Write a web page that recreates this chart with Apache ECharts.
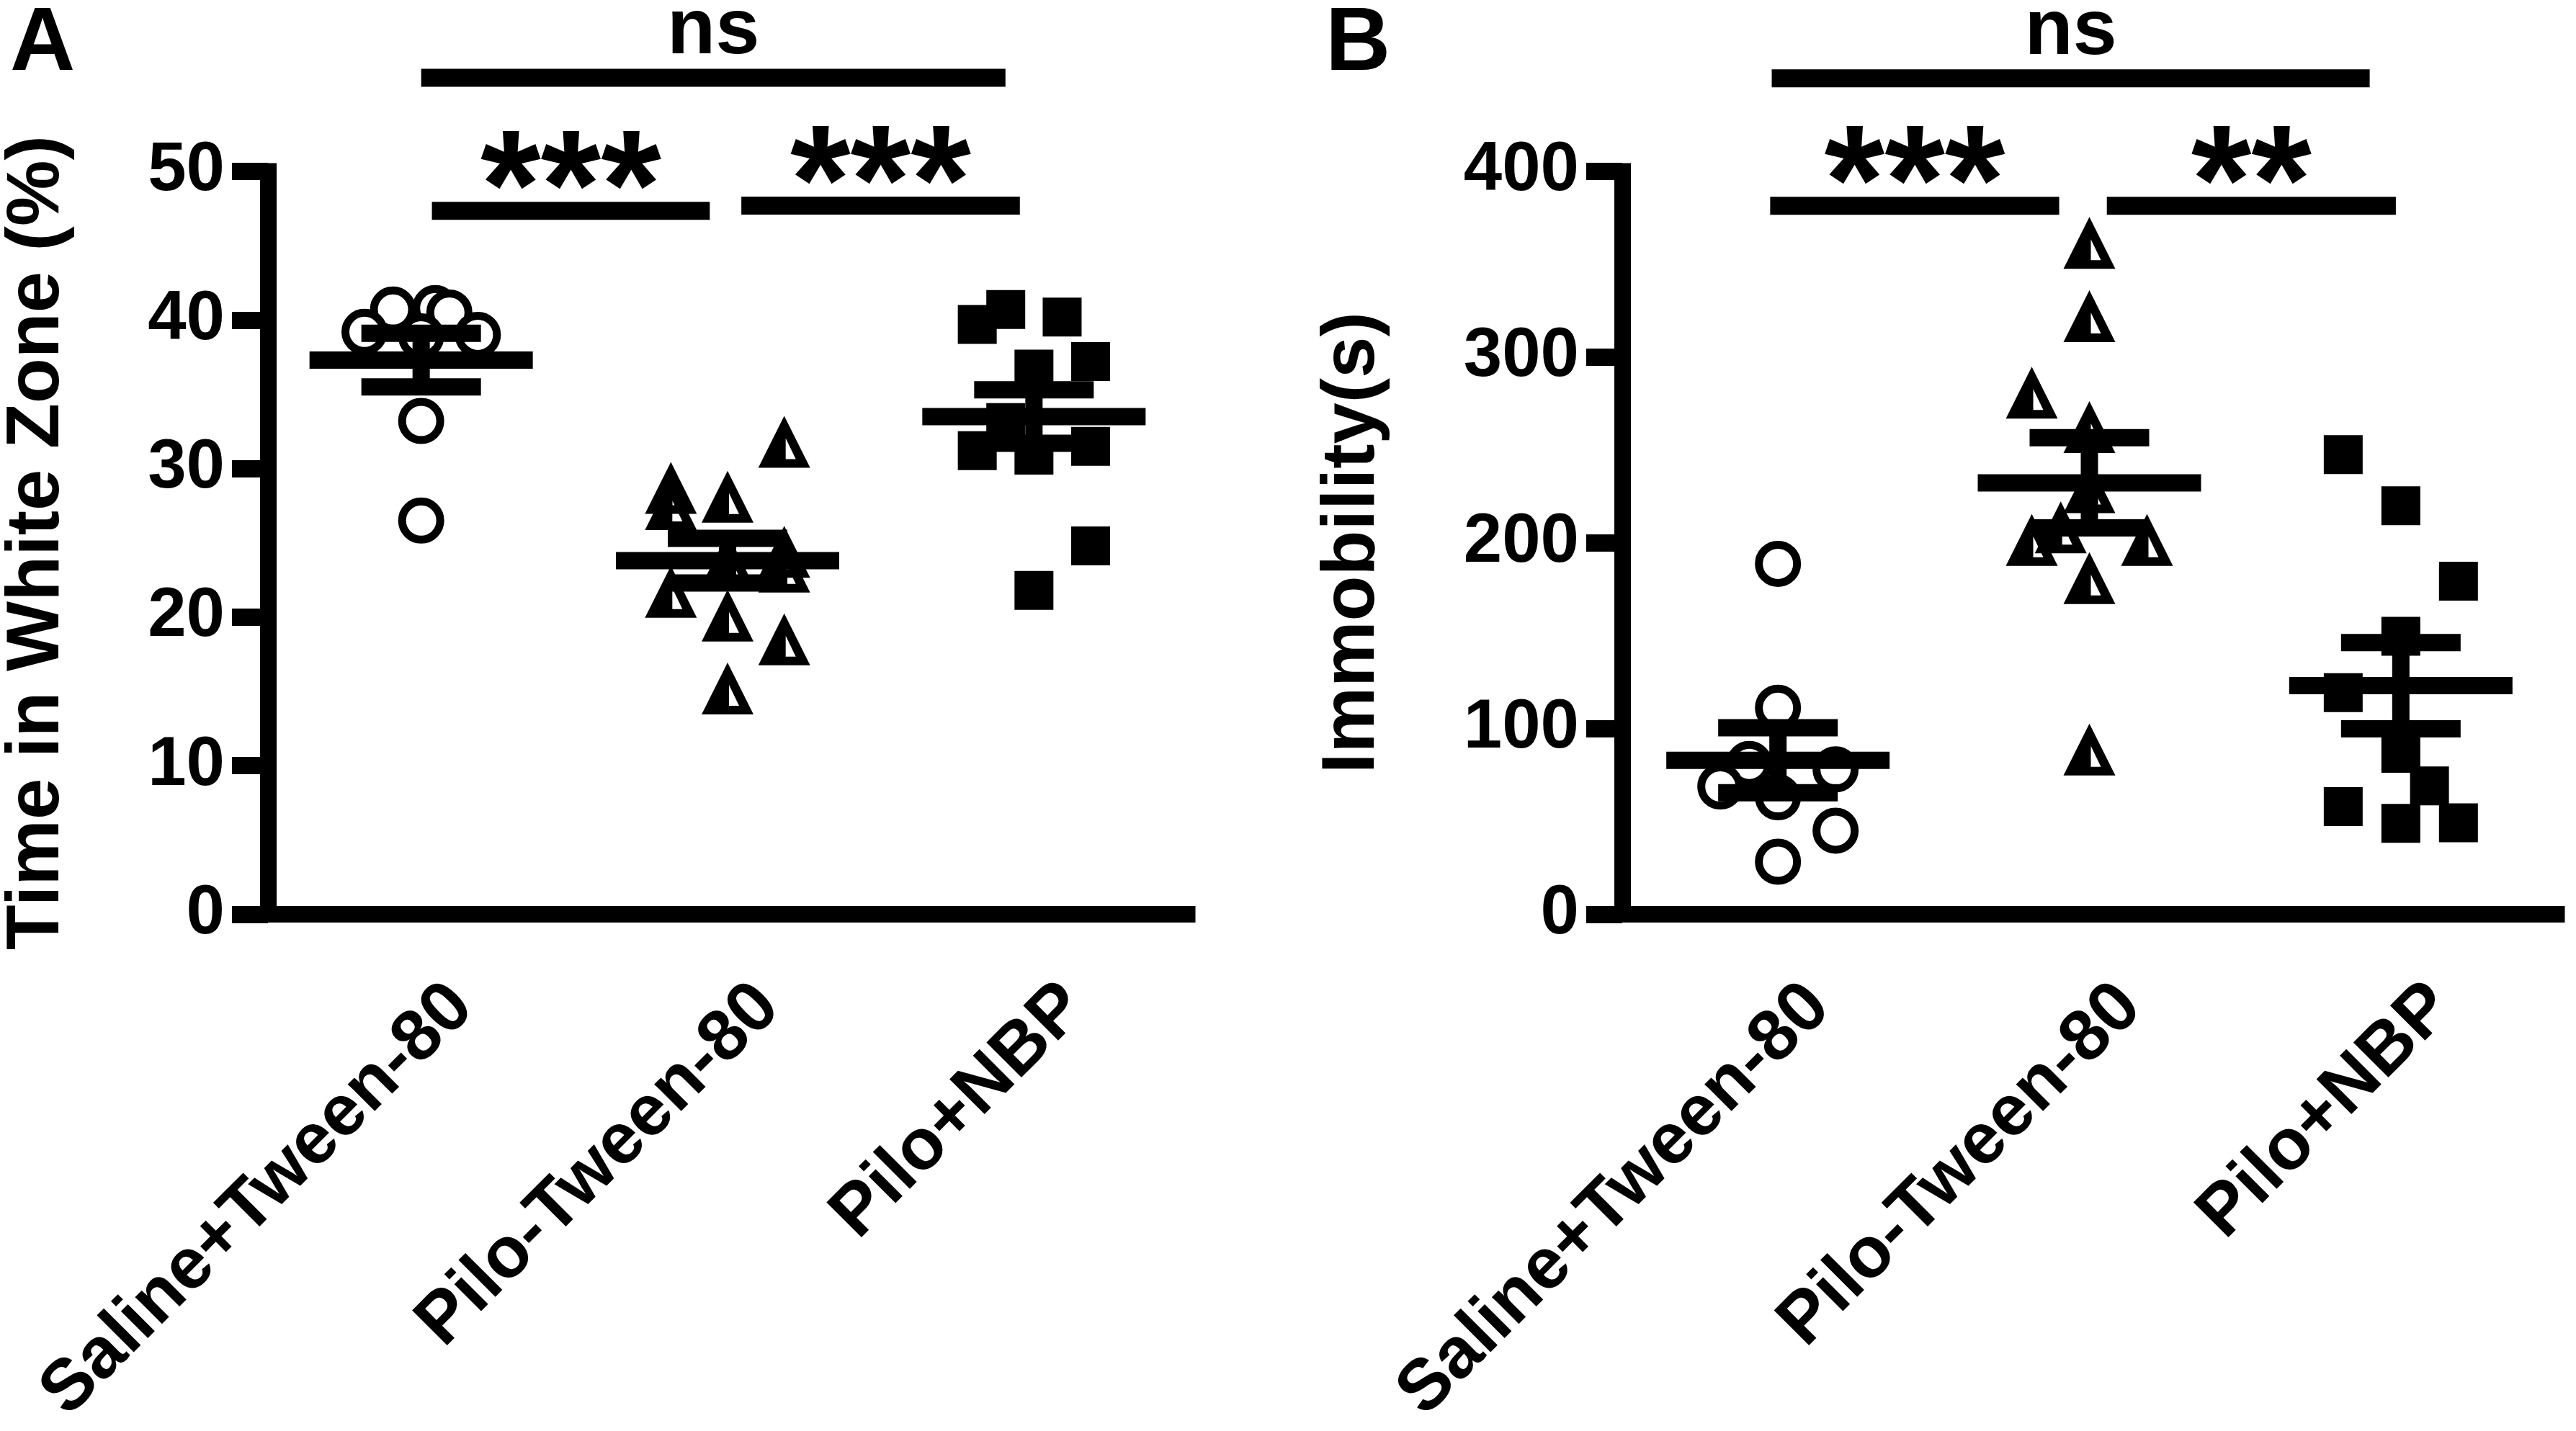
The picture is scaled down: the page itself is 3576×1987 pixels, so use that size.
<!DOCTYPE html>
<html>
<head>
<meta charset="utf-8">
<script src="https://cdn.jsdelivr.net/npm/echarts@6/dist/echarts.min.js"></script>
<style>
  html, body { margin: 0; padding: 0; background: #fff; }
  #chart { width: 3576px; height: 1987px; }
</style>
</head>
<body>
<div id="chart"></div>
<script>
// groups on the x axis
const groups = ['Saline+Tween-80', 'Pilo-Tween-80', 'Pilo+NBP'];

// panel A: time in white zone (%), points are [horizontal offset, value]
const zoneSaline = [[-0.092, 40.7], [0.046, 40.8], [0.092, 40.5], [-0.185, 39.2], [0.185, 39.0], [0, 38.9], [0, 33.2], [0, 26.5]];
const zonePilo = [[0.185, 31.8], [-0.185, 28.7], [-0.185, 27.6], [0, 28.1], [0.185, 24.4], [0.185, 23.4], [0, 23.9], [-0.185, 21.7], [0, 20.1], [0.185, 18.5], [0, 15.2]];
const zoneNbp = [[-0.092, 40.7], [-0.185, 39.7], [0.092, 40.2], [0.185, 37.2], [0, 36.7], [-0.092, 33.1], [-0.185, 31.2], [0, 30.9], [0.185, 31.5], [0.185, 24.8], [0, 21.8]];
const zoneMean = [37.3, 23.8, 33.5];
const zoneSem = [1.8, 1.5, 1.8];
const zoneTicks = [0, 10, 20, 30, 40, 50];
// significance bars: [from, to, height, label]
const zoneSig = [[0, 1.907, 56.3, 'ns'], [0.035, 0.942, 47.35, '***'], [1.045, 1.954, 47.7, '***']];

// panel B: immobility (s)
const immSaline = [[0, 188.7], [0, 111.2], [-0.092, 81.0], [-0.185, 68.8], [0.185, 78.0], [0, 63.0], [0.185, 45.0], [0, 28.3]];
const immPilo = [[0, 361.5], [0, 322.1], [-0.185, 280.9], [0, 262.3], [0, 230], [-0.092, 208.3], [-0.185, 201.6], [0.185, 201.6], [0, 181], [0, 88.7]];
const immNbp = [[-0.185, 247.5], [0, 220], [0.185, 179.4], [0, 149.7], [-0.185, 119.3], [0, 86.7], [0.092, 69.1], [-0.185, 58], [0, 49], [0.185, 49.3]];
const immMean = [82.9, 232.3, 123.1];
const immSem = [17.5, 24.3, 23.2];
const immTicks = [0, 100, 200, 300, 400];
const immSig = [[-0.02, 1.90, 450.1, 'ns'], [-0.025, 0.903, 381.5, '***'], [1.056, 1.984, 381.5, '**']];

const FONT = '"Liberation Sans", Arial, Helvetica, sans-serif';
const triPath = 'path://M36,0 L72,72 L0,72 Z M38,31 L38,60 L52,60 Z';

function place(points, g) {
  return points.map(p => [g + p[0], p[1]]);
}

function axesFor(gi, ticks, yName, nameGap) {
  return {
    x: [
      {
        type: 'category', gridIndex: gi, data: groups,
        axisLine: { lineStyle: { color: '#000', width: 23, cap: 'square' } },
        axisTick: { alignWithLabel: true, length: 54, lineStyle: { color: '#000', width: 24 } },
        axisLabel: {
          rotate: 45, margin: 170, padding: [0, -80, 0, 0], interval: 0,
          color: '#000', fontSize: 100, fontWeight: 'bold', fontFamily: FONT
        },
        splitLine: { show: false }
      },
      { type: 'value', gridIndex: gi, min: -0.5, max: 2.5, show: false }
    ],
    y: {
      type: 'value', gridIndex: gi,
      min: ticks[0], max: ticks[ticks.length - 1], interval: ticks[1] - ticks[0],
      name: yName, nameLocation: 'middle', nameGap: nameGap,
      nameTextStyle: { color: '#000', fontSize: 103, fontWeight: 'bold', fontFamily: FONT },
      axisLine: { show: true, onZero: false, lineStyle: { color: '#000', width: 23, cap: 'square' } },
      axisTick: { show: true, length: 50, lineStyle: { color: '#000', width: 24 } },
      axisLabel: { margin: 60, color: '#000', fontSize: 96, fontWeight: 'bold', fontFamily: FONT },
      splitLine: { show: false }
    }
  };
}

function scatter(xi, yi, data, symbol, size, style) {
  return {
    type: 'scatter', xAxisIndex: xi, yAxisIndex: yi, data: data,
    symbol: symbol, symbolSize: size, itemStyle: Object.assign({ opacity: 1 }, style), z: 2,
    silent: true, animation: false
  };
}

// mean line with SEM whiskers, drawn over the points
function meanSem(xi, yi, mean, sem) {
  return {
    type: 'custom', xAxisIndex: xi, yAxisIndex: yi, z: 3, silent: true, animation: false,
    data: mean.map((m, i) => [i, m, sem[i]]),
    renderItem: function (params, api) {
      const x = api.value(0), m = api.value(1), s = api.value(2);
      const c = api.coord([x, m]);
      const hi = api.coord([x, m + s]);
      const lo = api.coord([x, m - s]);
      const st = { fill: '#000' };
      return {
        type: 'group',
        children: [
          { type: 'rect', shape: { x: c[0] - 155, y: c[1] - 12, width: 310, height: 24 }, style: st },
          { type: 'rect', shape: { x: c[0] - 83, y: hi[1] - 12, width: 166, height: 24 }, style: st },
          { type: 'rect', shape: { x: c[0] - 83, y: lo[1] - 12, width: 166, height: 24 }, style: st },
          { type: 'rect', shape: { x: c[0] - 12, y: hi[1], width: 24, height: lo[1] - hi[1] }, style: st }
        ]
      };
    }
  };
}

// significance bars above the plot
function sigBars(xi, yi, sig) {
  return {
    type: 'custom', xAxisIndex: xi, yAxisIndex: yi, z: 3, silent: true, animation: false, clip: false,
    data: sig.map(s => [s[0], s[1], s[2]]),
    renderItem: function (params, api) {
      const a = api.coord([api.value(0), api.value(2)]);
      const b = api.coord([api.value(1), api.value(2)]);
      const label = sig[params.dataIndex][3];
      const isNs = label === 'ns';
      return {
        type: 'group',
        children: [
          { type: 'rect', shape: { x: a[0], y: a[1] - 12.5, width: b[0] - a[0], height: 25 }, style: { fill: '#000' } },
          {
            type: 'text',
            style: {
              text: label, x: (a[0] + b[0]) / 2, y: a[1] + (isNs ? -64 : -22),
              align: 'center', verticalAlign: 'middle', fill: '#000',
              font: 'bold ' + (isNs ? 110 : 215) + 'px ' + FONT
            }
          }
        ]
      };
    }
  };
}

const chart = echarts.init(document.getElementById('chart'));
const A = axesFor(0, zoneTicks, 'Time in White Zone (%)', 268);
const B = axesFor(1, immTicks, 'Immobility(s)', 322);

const whiteCircle = { color: '#fff', borderColor: '#000', borderWidth: 11 };
const black = { color: '#000', borderWidth: 0 };

chart.setOption({
  animation: false,
  backgroundColor: '#fff',
  grid: [
    { left: 361, top: 238, width: 1287, height: 1037 },
    { left: 2252, top: 238, width: 1297, height: 1037 }
  ],
  xAxis: [A.x[0], A.x[1], B.x[0], B.x[1]],
  yAxis: [A.y, B.y],
  graphic: [
    { type: 'text', left: 14, top: 0, style: { text: 'A', fill: '#000', font: 'bold 125px ' + FONT } },
    { type: 'text', left: 1840, top: 0, style: { text: 'B', fill: '#000', font: 'bold 125px ' + FONT } }
  ],
  series: [
    scatter(1, 0, place(zoneSaline, 0), 'circle', 53, whiteCircle),
    scatter(1, 0, place(zonePilo, 1), triPath, 72, black),
    scatter(1, 0, place(zoneNbp, 2), 'rect', 54, black),
    meanSem(1, 0, zoneMean, zoneSem),
    sigBars(1, 0, zoneSig),
    scatter(3, 1, place(immSaline, 0), 'circle', 53, whiteCircle),
    scatter(3, 1, place(immPilo, 1), triPath, 72, black),
    scatter(3, 1, place(immNbp, 2), 'rect', 54, black),
    meanSem(3, 1, immMean, immSem),
    sigBars(3, 1, immSig)
  ]
});
</script>
</body>
</html>
